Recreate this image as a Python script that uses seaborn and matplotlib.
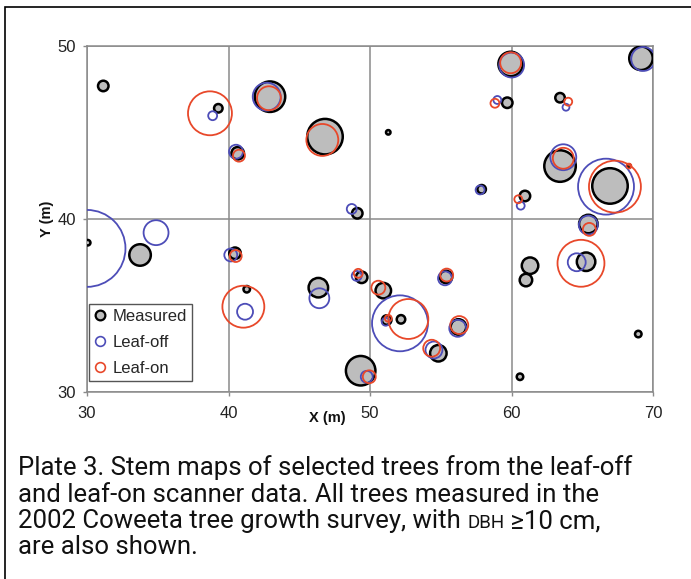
import numpy as np
import pandas as pd
import matplotlib
matplotlib.use("Agg")
import matplotlib.pyplot as plt
import seaborn as sns
from matplotlib.lines import Line2D
from matplotlib.patches import Rectangle

# ---------------- data ----------------
# Measured trees: x (m), y (m), bubble size (DBH-like, cm)
meas_x = [31.15, 39.28, 42.93, 40.65, 46.82, 51.29, 49.10, 59.94, 59.70, 69.15,
          63.43, 63.43, 66.96, 68.30, 57.89, 60.95, 30.05, 33.75, 40.46, 41.29,
          46.35, 49.41, 50.94, 51.18, 52.19, 55.37, 56.25, 54.83, 49.34, 65.43,
          65.27, 61.31, 61.02, 68.96, 60.60]
meas_y = [47.69, 46.40, 47.07, 43.80, 44.76, 45.01, 40.33, 48.96, 46.72, 49.29,
          47.01, 43.06, 41.91, 43.06, 41.72, 41.33, 38.63, 37.92, 38.02, 35.94,
          36.03, 36.63, 35.86, 34.16, 34.20, 36.65, 33.76, 32.24, 31.23, 39.71,
          37.53, 37.30, 36.47, 33.35, 30.88]
meas_dbh = [24, 20, 64, 28, 74, 12, 24, 52, 24, 50,
            22, 66, 74, 10, 20, 24, 14, 46, 26, 16,
            42, 26, 34, 22, 20, 28, 34, 36, 62, 40,
            40, 36, 28, 16, 16]

# Leaf-off scanner trees
off_x = [38.88, 42.70, 40.53, 48.71, 60.01, 59.00, 69.31, 63.85, 63.66, 66.68,
         57.78, 60.65, 30.00, 34.88, 40.16, 41.17, 46.42, 49.06, 52.12, 51.11,
         55.30, 56.20, 54.52, 49.77, 65.43, 64.61]
off_y = [45.97, 47.07, 43.89, 40.58, 48.90, 46.88, 49.25, 46.46, 43.57, 41.87,
         41.68, 40.77, 38.30, 39.21, 37.92, 34.64, 35.42, 36.71, 33.97, 34.06,
         36.57, 33.68, 32.43, 30.88, 39.65, 37.50]
off_dbh = [20, 58, 30, 22, 52, 18, 50, 16, 54, 114,
           20, 18, 156, 52, 28, 34, 42, 22, 114, 18,
           30, 36, 36, 26, 40, 38]

# Leaf-on scanner trees
on_x = [38.69, 42.86, 40.74, 46.63, 59.94, 58.83, 64.01, 63.66, 67.31, 68.30,
        60.48, 40.51, 41.05, 49.17, 50.59, 52.71, 51.29, 55.42, 56.31, 54.36,
        49.95, 65.50, 64.91]
on_y = [46.11, 46.98, 43.66, 44.57, 49.03, 46.69, 46.78, 43.51, 41.87, 43.06,
        41.14, 37.86, 34.93, 36.86, 36.03, 34.22, 34.26, 36.76, 33.87, 32.53,
        30.88, 39.40, 37.44]
on_dbh = [90, 50, 26, 66, 44, 20, 18, 44, 106, 12,
          18, 26, 86, 20, 30, 82, 16, 28, 38, 36,
          28, 28, 96]

x_ticks = [30, 40, 50, 60, 70]
y_ticks = [30, 40, 50]
series_labels = ["Measured", "Leaf-off", "Leaf-on"]
x_label = "X (m)"
y_label = "Y (m)"
caption_lines = [
    "Plate 3. Stem maps of selected trees from the leaf-off",
    "and leaf-on scanner data. All trees measured in the",
]
caption_line3 = ["2002 Coweeta tree growth survey, with ", "DBH", " \u226510 cm,"]
caption_line4 = "are also shown."

# ---------------- styling ----------------
W, H, DPI = 691, 579, 100
GRAY_FILL = "#bdbdbd"
BLUE = "#4d4db8"
RED = "#e8482a"
GRID = "#8a8a8a"

sns.set_theme(style="white")
plt.rcParams["font.family"] = ["Liberation Sans", "DejaVu Sans"]


def to_s(dbh, lw_px):
    d_px = np.asarray(dbh, float) / 2.0 - lw_px * 0.6
    d_pt = d_px * 72.0 / DPI
    return d_pt ** 2


fig = plt.figure(figsize=(W / DPI, H / DPI), dpi=DPI)
ax_left, ax_right, ax_top, ax_bot = 87, 653, 46, 392
ax = fig.add_axes([ax_left / W, 1 - ax_bot / H, (ax_right - ax_left) / W, (ax_bot - ax_top) / H])

df_m = pd.DataFrame({"x": meas_x, "y": meas_y, "dbh": meas_dbh})
df_off = pd.DataFrame({"x": off_x, "y": off_y, "dbh": off_dbh})
df_on = pd.DataFrame({"x": on_x, "y": on_y, "dbh": on_dbh})

sns.scatterplot(data=df_m, x="x", y="y", s=to_s(df_m["dbh"], 2.5), facecolor=GRAY_FILL,
                edgecolor="black", linewidth=1.8, ax=ax, legend=False, zorder=3)
sns.scatterplot(data=df_off, x="x", y="y", s=to_s(df_off["dbh"], 1.8), facecolor="none",
                edgecolor=BLUE, linewidth=1.3, ax=ax, legend=False, zorder=4)
sns.scatterplot(data=df_on, x="x", y="y", s=to_s(df_on["dbh"], 1.8), facecolor="none",
                edgecolor=RED, linewidth=1.3, ax=ax, legend=False, zorder=5)

ax.set_xlim(x_ticks[0], x_ticks[-1])
ax.set_ylim(y_ticks[0], y_ticks[-1])
ax.set_xticks(x_ticks)
ax.set_yticks(y_ticks)
ax.set_xticklabels([str(t) for t in x_ticks], fontsize=12)
ax.set_yticklabels([str(t) for t in y_ticks], fontsize=12)
ax.grid(True, color=GRID, linewidth=1.1)
ax.set_axisbelow(True)
for sp in ax.spines.values():
    sp.set_color(GRID)
    sp.set_linewidth(1.1)
    sp.set_visible(True)
ax.tick_params(axis="both", which="major", length=3, width=1.0, color=GRID,
               labelcolor="#222222", direction="out")
ax.tick_params(axis="y", pad=5, left=True)
ax.tick_params(axis="x", pad=7, bottom=True)

ax.set_xlabel(x_label, fontsize=10.5, fontweight="bold", color="#111111")
ax.set_ylabel(y_label, fontsize=10.5, fontweight="bold", color="#111111")
ax.xaxis.set_label_coords((327 - ax_left) / (ax_right - ax_left), (ax_bot - 418) / (ax_bot - ax_top))
ax.xaxis.label.set_va("center")
ax.yaxis.set_label_coords((47 - ax_left) / (ax_right - ax_left), 0.5)
ax.yaxis.label.set_va("center")

handles = [
    Line2D([], [], linestyle="none", marker="o", markersize=7, markerfacecolor=GRAY_FILL,
           markeredgecolor="black", markeredgewidth=1.6),
    Line2D([], [], linestyle="none", marker="o", markersize=7, markerfacecolor="none",
           markeredgecolor=BLUE, markeredgewidth=1.2),
    Line2D([], [], linestyle="none", marker="o", markersize=7, markerfacecolor="none",
           markeredgecolor=RED, markeredgewidth=1.2),
]
leg = ax.legend(handles, series_labels, loc="lower left",
                bbox_to_anchor=((89 - ax_left) / (ax_right - ax_left), (ax_bot - 381) / (ax_bot - ax_top)),
                borderaxespad=0, frameon=True, fancybox=False, fontsize=12,
                handlelength=0.7, handletextpad=0.4, labelspacing=0.66, borderpad=0.3)
leg.get_frame().set_edgecolor("#555555")
leg.get_frame().set_linewidth(1.0)
leg.get_frame().set_facecolor("white")
leg.get_frame().set_alpha(1)
leg.set_zorder(10)

# figure border (left + top visible)
fig.patches.append(Rectangle((5 / W, -0.1), 1.2, (1 - 7 / H) + 0.1, transform=fig.transFigure,
                             fill=False, edgecolor="black", linewidth=1.2))

# caption
cap_font = dict(family=["Roboto", "DejaVu Sans"], fontsize=18.5, color="#111111", va="baseline")
x0 = 18 / W
baselines = [475, 501.5, 528, 554]
fig.text(x0, 1 - baselines[0] / H, caption_lines[0], **cap_font)
fig.text(x0, 1 - baselines[1] / H, caption_lines[1], **cap_font)
t1 = fig.text(x0, 1 - baselines[2] / H, caption_line3[0], **cap_font)
fig.canvas.draw()
r = fig.canvas.get_renderer()
bb = t1.get_window_extent(r)
small = dict(cap_font)
small["fontsize"] = 13.5
t2 = fig.text(bb.x1 / W, 1 - baselines[2] / H, caption_line3[1], **small)
bb2 = t2.get_window_extent(r)
fig.text(bb2.x1 / W, 1 - baselines[2] / H, caption_line3[2], **cap_font)
fig.text(x0, 1 - baselines[3] / H, caption_line4, **cap_font)

fig.savefig("out.png", dpi=DPI)
